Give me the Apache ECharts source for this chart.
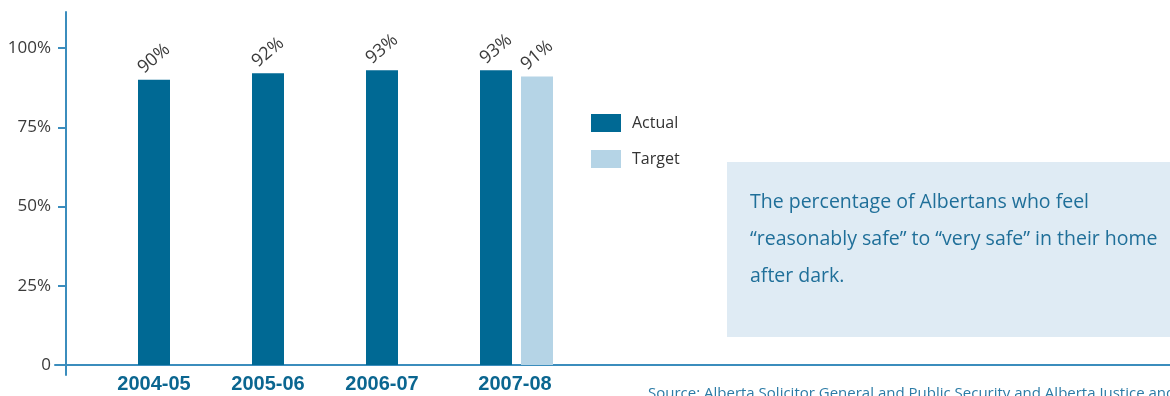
<!DOCTYPE html>
<html>
<head>
<meta charset="utf-8">
<script src="https://cdn.jsdelivr.net/npm/echarts@6/dist/echarts.min.js"></script>
<style>
  html, body { margin: 0; padding: 0; background: #fff; }
  #chart { width: 1170px; height: 396px; }
</style>
</head>
<body>
<div id="chart"></div>
<script>
// Fiscal years shown on the horizontal axis
const years = ['2004-05', '2005-06', '2006-07', '2007-08'];
// Share of Albertans feeling reasonably/very safe at home after dark (%)
const actualValues = [90, 92, 93, 93];
// Target is only set for the latest year
const targetValues = [null, null, null, 91];
// Vertical axis ticks (%)
const yTicks = [0, 25, 50, 75, 100];

const blueAxis = '#3b8dbd';
const actualColor = '#006994';
const targetColor = '#b5d4e6';
const bodyFont = '"Open Sans", "Noto Sans", sans-serif';

const valueLabel = {
  show: true,
  position: 'top',
  distance: 21,
  rotate: 40,
  align: 'center',
  verticalAlign: 'middle',
  formatter: p => p.value + '%',
  color: '#3a3a3a',
  fontFamily: bodyFont,
  fontSize: 18
};

const chart = echarts.init(document.getElementById('chart'));
chart.setOption({
  animation: false,
  grid: [
    // main plot for the actual bars
    { left: 97, width: 456, top: 48, bottom: 31 },
    // target bars sit just right of the actual bar in each year
    { left: 138, width: 456, top: 48, bottom: 31 },
    // long horizontal baseline
    { left: 55, right: 0, top: 300, bottom: 31 },
    // tall vertical axis line
    { left: 66, width: 1, top: 12, bottom: 21 }
  ],
  legend: {
    orient: 'vertical',
    left: 591,
    top: 114,
    padding: 0,
    itemWidth: 30,
    itemHeight: 18,
    itemGap: 18,
    icon: 'rect',
    data: ['Actual', 'Target'],
    textStyle: {
      color: '#333',
      fontFamily: bodyFont,
      fontSize: 16,
      padding: [2, 0, 0, 6]
    }
  },
  xAxis: [
    {
      type: 'category',
      gridIndex: 0,
      data: years,
      axisLine: { show: false },
      axisTick: { show: false },
      axisLabel: {
        margin: 9,
        formatter: (v, i) => i === years.length - 1 ? '{shift|' + v + '}' : '{n|' + v + '}',
        rich: {
          n: { color: '#0b6690', fontFamily: '"Liberation Sans", Arial, sans-serif', fontWeight: 'bold', fontSize: 20 },
          shift: { color: '#0b6690', fontFamily: '"Liberation Sans", Arial, sans-serif', fontWeight: 'bold', fontSize: 20, padding: [0, 0, 0, 38] }
        }
      }
    },
    {
      type: 'category',
      gridIndex: 1,
      data: years,
      show: false
    },
    {
      type: 'value',
      gridIndex: 2,
      axisLine: { show: true, lineStyle: { color: blueAxis, width: 2 } },
      axisTick: { show: false },
      axisLabel: { show: false },
      splitLine: { show: false }
    },
    {
      type: 'value',
      gridIndex: 3,
      show: false
    }
  ],
  yAxis: [
    {
      type: 'value',
      gridIndex: 0,
      min: yTicks[0],
      max: yTicks[yTicks.length - 1],
      interval: 25,
      offset: 31,
      axisLine: { show: false },
      axisTick: { show: true, length: 8, lineStyle: { color: blueAxis, width: 2 } },
      splitLine: { show: false },
      axisLabel: {
        margin: 15,
        color: '#3a3a3a',
        fontFamily: bodyFont,
        fontSize: 17,
        formatter: v => v === 0 ? '0' : v + '%'
      }
    },
    {
      type: 'value',
      gridIndex: 1,
      min: yTicks[0],
      max: yTicks[yTicks.length - 1],
      show: false
    },
    {
      type: 'value',
      gridIndex: 2,
      show: false
    },
    {
      type: 'value',
      gridIndex: 3,
      axisLine: { show: true, lineStyle: { color: blueAxis, width: 2 } },
      axisTick: { show: false },
      axisLabel: { show: false },
      splitLine: { show: false }
    }
  ],
  series: [
    {
      name: 'Actual',
      type: 'bar',
      xAxisIndex: 0,
      yAxisIndex: 0,
      barWidth: 32,
      data: actualValues,
      itemStyle: { color: actualColor },
      label: valueLabel
    },
    {
      name: 'Target',
      type: 'bar',
      xAxisIndex: 1,
      yAxisIndex: 1,
      barWidth: 32,
      data: targetValues,
      itemStyle: { color: targetColor },
      label: valueLabel
    }
  ],
  graphic: [
    {
      type: 'rect',
      left: 727,
      top: 162,
      shape: { width: 443, height: 175 },
      style: { fill: '#dfebf4' }
    },
    {
      type: 'text',
      left: 750,
      top: 184,
      style: {
        text: 'The percentage of Albertans who feel\n\u201creasonably safe\u201d to \u201cvery safe\u201d in their home\nafter dark.',
        fill: '#1f6f99',
        font: '19.5px "Open Sans", "Noto Sans", sans-serif',
        lineHeight: 37
      }
    },
    {
      type: 'text',
      left: 648,
      top: 386,
      style: {
        text: 'Source: Alberta Solicitor General and Public Security and Alberta Justice and Attorney General',
        fill: '#2c7ba6',
        font: '15px "Open Sans", "Noto Sans", sans-serif'
      }
    }
  ]
});
</script>
</body>
</html>
